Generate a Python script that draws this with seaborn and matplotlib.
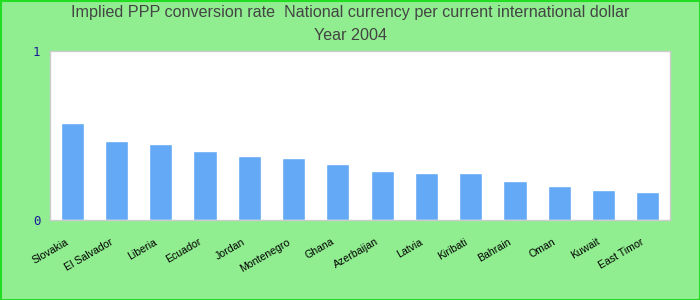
import matplotlib
matplotlib.use("Agg")
import matplotlib.pyplot as plt
import matplotlib.transforms as mtransforms
import seaborn as sns
import pandas as pd

countries = ["Slovakia", "El Salvador", "Liberia", "Ecuador", "Jordan", "Montenegro",
             "Ghana", "Azerbaijan", "Latvia", "Kiribati", "Bahrain", "Oman", "Kuwait", "East Timor"]
values = [0.574, 0.467, 0.450, 0.408, 0.379, 0.367, 0.331, 0.290, 0.278, 0.278,
          0.231, 0.201, 0.178, 0.166]
yticks = [0, 1]

sns.set_theme(style="white")
plt.rcParams['font.family'] = ['Liberation Sans', 'DejaVu Sans']

df = pd.DataFrame({"country": countries, "value": values})

fig = plt.figure(figsize=(7, 3), dpi=100, facecolor="#90EE90")
ax = fig.add_axes([50/700, 1-220/300, 620/700, 169/300])
sns.barplot(data=df, x="country", y="value", color="#63A9F5", width=0.52,
            saturation=1, ax=ax)
ax.set_facecolor("white")
ax.set_xlim(-0.5, len(countries) - 0.5)
ax.set_ylim(0, 1)
ax.set_yticks(yticks)
ax.set_yticklabels([str(t) for t in yticks], color="#1a1a9a", fontsize=9,
                   family="DejaVu Sans Mono")
ax.tick_params(axis="y", length=0, pad=7)
ax.tick_params(axis="x", length=0, pad=12)
ax.set_xticks(range(len(countries)))
ax.set_xticklabels(countries, rotation=30, ha="right", rotation_mode="anchor",
                   fontsize=7.6, color="black")
offset = mtransforms.ScaledTranslation(-7/100, 0, fig.dpi_scale_trans)
for lab in ax.get_xticklabels():
    lab.set_transform(lab.get_transform() + offset)
ax.set_xlabel("")
ax.set_ylabel("")
for s in ax.spines.values():
    s.set_color("#cccccc")
    s.set_linewidth(1)

fig.text(0.5, 1-13/300, "Implied PPP conversion rate  National currency per current international dollar",
         ha="center", va="center", fontsize=11.6, color="#444444")
fig.text(0.5, 1-36/300, "Year 2004", ha="center", va="center", fontsize=11.6, color="#444444")

border = plt.Rectangle((0.5/700, 0.5/300), 699/700, 299/300, transform=fig.transFigure,
                       fill=False, edgecolor="#22dd22", linewidth=1.5)
fig.patches.append(border)

fig.savefig("out.png", dpi=100, facecolor=fig.get_facecolor())
